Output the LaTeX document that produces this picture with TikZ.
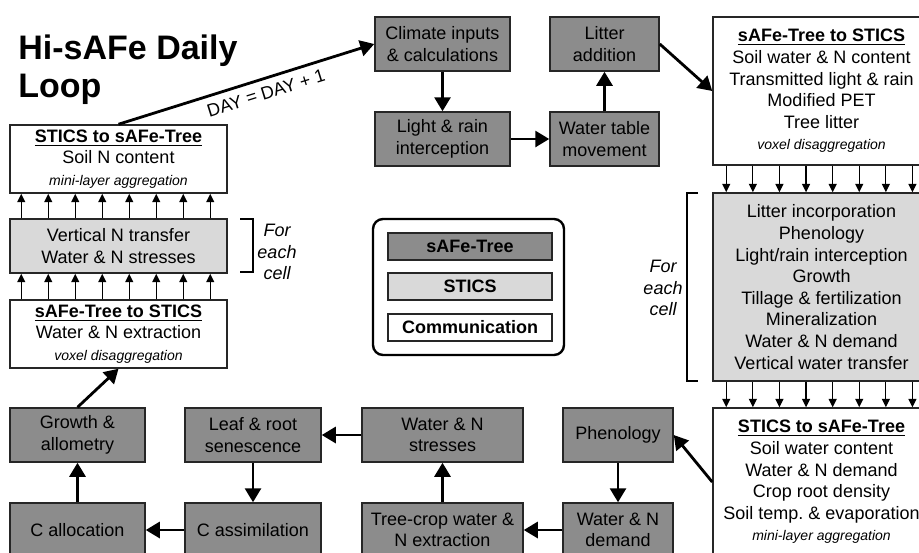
\documentclass[tikz,border=0pt]{standalone}
\usepackage{fontspec}
\setmainfont{Liberation Sans}
\usepackage{tikz}
\usetikzlibrary{positioning,arrows.meta}
\definecolor{treegray}{gray}{0.55}
\definecolor{sticsgray}{gray}{0.85}
\definecolor{edgegray}{gray}{0.15}
\newcommand{\smallnote}[1]{{\fontsize{7}{8.4}\selectfont\itshape #1}}
\def\pagebox{(0,0) rectangle (919,552)}
\def\bracketL{(240,219) -- (253,219) -- (253,272) -- (240,272)}
\def\bracketR{(698,193) -- (687,193) -- (687,381) -- (698,381)}
\def\legendframe{(373,219) rectangle (564,355)}

\begin{document}
\begin{tikzpicture}[x=0.5pt,y=-0.5pt,
  box/.style={draw=edgegray,line width=0.75pt,align=center,inner sep=0pt,
    font=\fontsize{9}{10.8}\selectfont},
  treebox/.style={box,fill=treegray},
  sticsbox/.style={box,fill=sticsgray},
  commbox/.style={box,fill=white},
  bigarrow/.style={line width=1.4pt,-{Triangle[length=7pt,width=8pt]}},
  smallarrow/.style={line width=0.6pt,-{Triangle[length=4.2pt,width=4pt]}},
  cellnote/.style={align=center,font=\fontsize{9}{10.8}\selectfont\itshape}]
 \useasboundingbox \pagebox;
 \clip \pagebox;
 % title
 \node[anchor=north west,inner sep=0pt,align=left,
   font=\fontsize{17}{19}\selectfont\bfseries] (title) at (18,34) {Hi-sAFe Daily\\Loop};
 % left column
 \node[commbox,minimum width=108.5pt,minimum height=34pt] (stsafeL) at (118.5,159)
   {\underline{\textbf{STICS to sAFe-Tree}}\\Soil N content\\\smallnote{mini-layer aggregation}};
 \node[sticsbox,minimum width=108.5pt,minimum height=27pt] (lgray) at (118.5,246)
   {Vertical N transfer\\Water \& N stresses};
 \node[commbox,minimum width=108.5pt,minimum height=34pt] (safestL) at (118.5,334)
   {\underline{\textbf{sAFe-Tree to STICS}}\\Water \& N extraction\\\smallnote{voxel disaggregation}};
 \draw[line width=0.6pt] \bracketL;
 \node[cellnote] (cellL) at (277,252) {For\\each\\cell};
 % top row
 \node[treebox,minimum width=67.5pt,minimum height=27pt] (climate) at (442.5,44)
   {Climate inputs\\\& calculations};
 \node[treebox,minimum width=67.5pt,minimum height=27pt] (light) at (442.5,139)
   {Light \& rain\\interception};
 \node[treebox,minimum width=54.5pt,minimum height=27pt] (watertable) at (604.5,139)
   {Water table\\movement};
 \node[treebox,minimum width=54.5pt,minimum height=27pt] (litter) at (604.5,44)
   {Litter\\addition};
 % right column
 \node[commbox,minimum width=108.5pt,minimum height=74pt] (safestR) at (821.5,91)
   {\underline{\textbf{sAFe-Tree to STICS}}\\Soil water \& N content\\Transmitted light \& rain\\
    Modified PET\\Tree litter\\\smallnote{voxel disaggregation}};
 \node[sticsbox,minimum width=108.5pt,minimum height=94pt] (rgray) at (821.5,287)
   {Litter incorporation\\Phenology\\Light/rain interception\\Growth\\
    Tillage \& fertilization\\Mineralization\\Water \& N demand\\Vertical water transfer};
 \node[commbox,minimum width=108.5pt,minimum height=74pt] (stsafeR) at (821.5,482)
   {\underline{\textbf{STICS to sAFe-Tree}}\\Soil water content\\Water \& N demand\\
    Crop root density\\Soil temp.\ \& evaporation\\\smallnote{mini-layer aggregation}};
 \draw[line width=0.6pt] \bracketR;
 \node[cellnote] (cellR) at (663,288) {For\\each\\cell};
 % bottom rows
 \node[treebox,minimum width=55pt,minimum height=27pt] (pheno) at (618,435) {Phenology};
 \node[treebox,minimum width=55pt,minimum height=27pt] (demand) at (618,530) {Water \& N\\demand};
 \node[treebox,minimum width=80.5pt,minimum height=27pt] (extraction) at (442.5,530)
   {Tree-crop water \&\\N extraction};
 \node[treebox,minimum width=80.5pt,minimum height=27pt] (stresses) at (442.5,435)
   {Water \& N\\stresses};
 \node[treebox,minimum width=68pt,minimum height=27pt] (senescence) at (253,435)
   {Leaf \& root\\senescence};
 \node[treebox,minimum width=68pt,minimum height=27pt] (assim) at (253,530) {C assimilation};
 \node[treebox,minimum width=67.5pt,minimum height=27pt] (alloc) at (77.5,530) {C allocation};
 \node[treebox,minimum width=67.5pt,minimum height=27pt] (growth) at (77.5,435)
   {Growth \&\\allometry};
 % legend
 \draw[line width=1.2pt,rounded corners=5pt] \legendframe;
 \node[treebox,minimum width=82pt,minimum height=13.5pt] (legtree) at (470,246.5) {\textbf{sAFe-Tree}};
 \node[sticsbox,minimum width=82pt,minimum height=13.5pt] (legstics) at (470,286.5) {\textbf{STICS}};
 \node[commbox,minimum width=82pt,minimum height=13.5pt] (legcomm) at (470,327.5) {\textbf{Communication}};
 % daily loop
 \draw[bigarrow] (stsafeL.north) -- node[sloped,below,pos=0.56,font=\fontsize{9}{10.8}\selectfont]
   (daylabel) {DAY = DAY + 1} (climate.west);
 \draw[bigarrow] (climate) -- (light);
 \draw[bigarrow] (light) -- (watertable);
 \draw[bigarrow] (watertable) -- (litter);
 \draw[bigarrow] (litter.east) -- (safestR.west);
 \draw[bigarrow] (stsafeR.west) -- (pheno.east);
 \draw[bigarrow] (pheno) -- (demand);
 \draw[bigarrow] (demand) -- (extraction);
 \draw[bigarrow] (extraction) -- (stresses);
 \draw[bigarrow] (stresses) -- (senescence);
 \draw[bigarrow] (senescence) -- (assim);
 \draw[bigarrow] (assim) -- (alloc);
 \draw[bigarrow] (alloc) -- (growth);
 \draw[bigarrow] (growth.north) -- (safestL.south);
 % layer transfers
 \foreach \i in {0,...,7}{
   \draw[smallarrow] ([xshift=6pt+13.5pt*\i]lgray.north west) -- ([xshift=6pt+13.5pt*\i]stsafeL.south west);
   \draw[smallarrow] ([xshift=6pt+13.5pt*\i]safestL.north west) -- ([xshift=6pt+13.5pt*\i]lgray.south west);
   \draw[smallarrow] ([xshift=7pt+13.3pt*\i]safestR.south west) -- ([xshift=7pt+13.3pt*\i]rgray.north west);
   \draw[smallarrow] ([xshift=7pt+13.3pt*\i]rgray.south west) -- ([xshift=7pt+13.3pt*\i]stsafeR.north west);
 }
\end{tikzpicture}
\end{document}
